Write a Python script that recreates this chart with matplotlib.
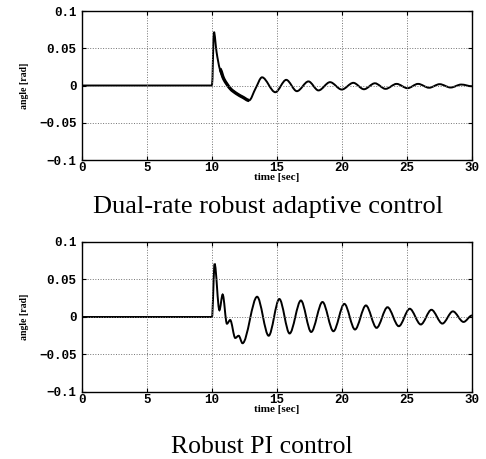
import numpy as np
import matplotlib
matplotlib.use('Agg')
import matplotlib.pyplot as plt
from matplotlib.path import Path
from matplotlib.patches import PathPatch

# values (time in s, angle in rad), extrema of the response
t_adapt = [0, 10.0, 10.15, 10.35, 10.6, 10.9, 11.4, 11.9, 12.4, 12.85, 13.35, 13.85,
           14.87, 15.71, 16.53, 17.42, 18.19, 19.08, 19.98, 20.87, 21.69, 22.53,
           23.35, 24.2, 25.04, 25.85, 26.7, 27.51, 28.36, 29.17, 30.0]
y_adapt = [0, 0, 0.072, 0.045, 0.022, 0.009, -0.004, -0.011, -0.016, -0.020, -0.004, 0.011,
           -0.009, 0.0076, -0.0076, 0.0055, -0.0066, 0.0045, -0.0054, 0.0036, -0.005, 0.003,
           -0.0045, 0.0022, -0.0036, 0.0022, -0.003, 0.0018, -0.0027, 0.0013, -0.001]

t_pi = [0, 10.0, 10.2, 10.57, 10.82, 11.15, 11.4, 11.79, 12.05, 12.35, 13.47, 14.36,
        15.18, 15.97, 16.84, 17.63, 18.5, 19.34, 20.18, 21.0, 21.84, 22.66, 23.5,
        24.37, 25.21, 26.06, 26.88, 27.72, 28.53, 29.35, 30.0]
y_pi = [0, 0, 0.071, 0.009, 0.030, -0.009, -0.004, -0.028, -0.025, -0.035, 0.027, -0.025,
        0.024, -0.022, 0.022, -0.020, 0.020, -0.019, 0.0175, -0.0167, 0.0154, -0.0145, 0.013,
        -0.0123, 0.011, -0.010, 0.0096, -0.0088, 0.0075, -0.0066, 0.002]

captions = ['Dual-rate robust adaptive control', 'Robust PI control']
xticks = [0, 5, 10, 15, 20, 25, 30]
yticks = [-0.1, -0.05, 0, 0.05, 0.1]
ytick_labels = ['\u22120.1', '\u22120.05', '0', '0.05', '0.1']


def smooth_path(t, y):
    # cubic bezier through the read points, flat at extrema
    t = np.asarray(t, float)
    y = np.asarray(y, float)
    n = len(t)
    m = np.zeros(n)
    for i in range(1, n - 1):
        if (y[i] - y[i - 1]) * (y[i + 1] - y[i]) > 0:
            m[i] = (y[i + 1] - y[i - 1]) / (t[i + 1] - t[i - 1])
    verts = [(t[0], y[0])]
    codes = [Path.MOVETO]
    for i in range(n - 1):
        d = t[i + 1] - t[i]
        verts += [(t[i] + d / 3, y[i] + m[i] * d / 3),
                  (t[i + 1] - d / 3, y[i + 1] - m[i + 1] * d / 3),
                  (t[i + 1], y[i + 1])]
        codes += [Path.CURVE4] * 3
    return Path(verts, codes)


fig = plt.figure(figsize=(4.86, 4.59), dpi=100)
ax1 = fig.add_axes([0.1687, 0.6514, 0.8025, 0.3246])
ax2 = fig.add_axes([0.1687, 0.146, 0.8025, 0.3268])

tick_font = dict(family='Liberation Mono', weight='bold', size=9)

for ax, t, y in [(ax1, t_adapt, y_adapt), (ax2, t_pi, y_pi)]:
    ax.add_patch(PathPatch(smooth_path(t, y), fill=False, color='black', lw=1.4))
    ax.set_xlim(0, 30)
    ax.set_ylim(-0.1, 0.1)
    ax.set_xticks(xticks)
    ax.set_yticks(yticks)
    ax.set_xticklabels([str(v) for v in xticks], fontdict=tick_font)
    ax.set_yticklabels(ytick_labels, fontdict=tick_font)
    ax.tick_params(direction='in', length=3, top=True, right=True)
    ax.tick_params(axis='x', pad=1.5)
    ax.tick_params(axis='y', pad=4)
    ax.grid(True, linestyle=':', color='0.45', lw=0.7)
    for s in ax.spines.values():
        s.set_linewidth(1.0)
    ax.set_xlabel('time [sec]', family='Liberation Serif', weight='bold', size=8, labelpad=-1)
    ax.set_ylabel('angle [rad]', family='Liberation Serif', weight='bold', size=7, labelpad=7)

# fuzzy high-frequency part of the adaptive response
sel = slice(4, 10)
ax1.add_patch(PathPatch(smooth_path(t_adapt[sel], y_adapt[sel]), fill=False, color='black', lw=2.4))

fig.text(0.551, 0.536, captions[0], family='Liberation Serif', size=19, ha='center', va='baseline')
fig.text(0.539, 0.012, captions[1], family='Liberation Serif', size=18.5, ha='center', va='baseline')

fig.savefig('out.png', dpi=100)
